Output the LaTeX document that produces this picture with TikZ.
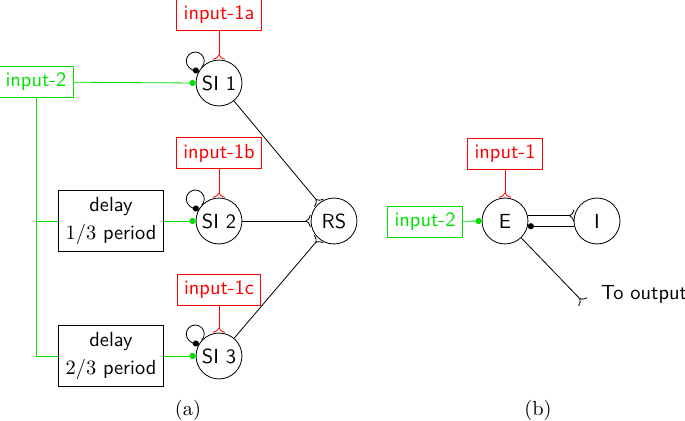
\documentclass[tikz,border=0pt]{standalone}
\usetikzlibrary{arrows.meta,positioning}
\definecolor{ingreen}{RGB}{0,225,0}
\tikzset{
  cell/.style={circle,draw,minimum size=22.5pt,inner sep=0pt,font=\sffamily},
  redin/.style={draw=red,text=red,font=\sffamily},
  greenin/.style={draw=ingreen,text=ingreen,font=\sffamily},
  delaybox/.style={draw,align=center,font=\sffamily,minimum width=49pt,minimum height=29pt},
  excite/.style={-{To[reversed,length=2.5pt,width=6pt]}},
  inhib/.style={-{Circle[length=3pt]}},
}

\begin{document}
\begin{tikzpicture}[x=0.49pt,y=0.49pt]
\useasboundingbox (0,0) rectangle (685,-421);
% (a) three SI cells and RS
\node[cell] (si1) at (219,-83) {SI 1};
\node[cell] (si2) at (219,-221) {SI 2};
\node[cell] (si3) at (219,-356) {SI 3};
\node[cell] (rs) at (334,-221) {RS};
\node[redin] (in1a) at (219,-15) {input-1a};
\node[redin] (in1b) at (219,-153) {input-1b};
\node[redin] (in1c) at (219,-290) {input-1c};
\node[greenin] (in2) at (36,-82) {input-2};
\node[delaybox] (delay1) at (111,-221) {delay\\[1.5pt]$1/3$ period};
\node[delaybox] (delay2) at (111,-356) {delay\\[1.5pt]$2/3$ period};
\foreach \c/\r in {si1/in1a, si2/in1b, si3/in1c}
{
  \draw[red,excite] (\r) -- (\c);
  \draw[inhib] (\c.138) arc[start angle=-45, end angle=292, radius=4.4pt];
  \draw[excite] (\c) -- (rs);
}
\draw[ingreen,inhib] (in2) -- (si1.west);
\draw[ingreen] (in2.south) |- (delay1);
\draw[ingreen] (in2.south) |- (delay2);
\draw[ingreen,inhib] (delay1) -- (si2.west);
\draw[ingreen,inhib] (delay2) -- (si3.west);
\node (capa) at (188,-410) {(a)};
% (b) E and I
\node[cell] (e) at (505,-221) {E};
\node[cell] (i) at (597,-221) {I};
\node[redin] (in1) at (505,-154) {input-1};
\node[greenin] (in2b) at (425,-222) {input-2};
\coordinate (out) at (583,-302);
\node[anchor=west,font=\sffamily] (outlabel) at (594,-294) {To output};
\draw[red,excite] (in1) -- (e);
\draw[ingreen,inhib] (in2b) -- (e.west);
\draw[excite] (e.13) -- (i.167);
\draw[inhib] (i.193) -- (e.347);
\draw[excite] (e) -- (out);
\node (capb) at (538,-410) {(b)};
\end{tikzpicture}
\end{document}
